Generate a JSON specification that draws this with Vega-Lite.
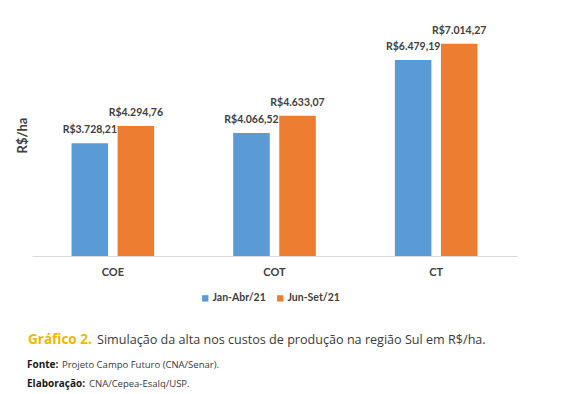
{
  "$schema": "https://vega.github.io/schema/vega-lite/v6.json",
  "background": "white",
  "padding": {"left": 16, "top": 14, "right": 5, "bottom": 5},
  "autosize": {"type": "pad"},
  "spacing": 29,
  "resolve": {"scale": {"color": "independent", "size": "independent", "x": "independent", "y": "independent"}, "legend": {"color": "independent", "size": "independent"}},
  "config": {
    "view": {"stroke": null},
    "locale": {"number": {"decimal": ",", "thousands": ".", "grouping": [3], "currency": ["R$", ""]}},
    "font": "Lato"
  },
  "vconcat": [
    {
      "width": 485,
      "height": 242,
      "data": {"values": [
        {"custo": "COE", "periodo": "Jan-Abr/21", "valor": 3728.21},
        {"custo": "COE", "periodo": "Jun-Set/21", "valor": 4294.76},
        {"custo": "COT", "periodo": "Jan-Abr/21", "valor": 4066.52},
        {"custo": "COT", "periodo": "Jun-Set/21", "valor": 4633.07},
        {"custo": "CT", "periodo": "Jan-Abr/21", "valor": 6479.19},
        {"custo": "CT", "periodo": "Jun-Set/21", "valor": 7014.27}
      ]},
      "encoding": {
        "x": {"field": "custo", "type": "nominal", "sort": ["COE", "COT", "CT"],
          "scale": {"paddingInner": 0, "paddingOuter": 0},
          "axis": {"title": null, "labelAngle": 0, "ticks": false, "domainColor": "#D9D9D9", "domainWidth": 1,
            "labelFont": "Lato", "labelFontWeight": "bold", "labelFontSize": 11, "labelColor": "#404040", "labelPadding": 10}},
        "xOffset": {"field": "periodo", "type": "nominal", "scale": {"paddingInner": 0.2065, "paddingOuter": 0.859}},
        "y": {"field": "valor", "type": "quantitative", "scale": {"domain": [0, 8000]},
          "axis": {"title": "R$/ha", "labels": false, "ticks": false, "domain": false, "grid": false,
            "titleFont": "Lato", "titleFontWeight": "bold", "titleFontSize": 13, "titleColor": "#404040", "titlePadding": 3}}
      },
      "layer": [
        {
          "mark": {"type": "bar"},
          "encoding": {
            "color": {"field": "periodo", "type": "nominal",
              "scale": {"domain": ["Jan-Abr/21", "Jun-Set/21"], "range": ["#5B9BD5", "#ED7D31"]},
              "legend": {"title": null, "orient": "none", "direction": "horizontal", "legendX": 168, "legendY": 279,
                "symbolType": "square", "symbolSize": 40, "symbolStrokeWidth": 0, "columnPadding": 9, "labelOffset": 2,
                "labelFont": "Lato", "labelFontWeight": "bold", "labelFontSize": 10.5, "labelColor": "#404040"}}
          }
        },
        {
          "mark": {"type": "text", "baseline": "bottom", "dy": -8, "font": "Lato", "fontWeight": "bold", "fontSize": 10.5, "color": "#404040"},
          "encoding": {
            "text": {"field": "valor", "type": "quantitative", "format": "$,.2f"}
          }
        }
      ]
    },
    {
      "width": 485,
      "height": 38,
      "data": {"values": [
        {"linha": "1", "destaque": "Gráfico 2.", "texto": "Simulação da alta nos custos de produção na região Sul em R$/ha."},
        {"linha": "2", "destaque": "Fonte:", "texto": "Projeto Campo Futuro (CNA/Senar)."},
        {"linha": "3", "destaque": "Elaboração:", "texto": "CNA/Cepea-Esalq/USP."}
      ]},
      "encoding": {
        "y": {"field": "linha", "type": "ordinal", "scale": {"type": "point", "range": [0, 38], "padding": 0}, "axis": null}
      },
      "layer": [
        {
          "transform": [{"filter": "datum.linha == '1'"}],
          "mark": {"type": "text", "align": "left", "baseline": "middle", "font": "Open Sans", "fontWeight": "bold", "fontSize": 13.5, "color": "#F2B600", "dy": -6},
          "encoding": {"x": {"value": -4}, "text": {"field": "destaque"}}
        },
        {
          "transform": [{"filter": "datum.linha == '1'"}],
          "mark": {"type": "text", "align": "left", "baseline": "middle", "font": "Open Sans", "fontSize": 12.6, "color": "#3A3A3A", "dy": -6},
          "encoding": {"x": {"value": 65}, "text": {"field": "texto"}}
        },
        {
          "transform": [{"filter": "datum.linha != '1'"}],
          "mark": {"type": "text", "align": "left", "baseline": "middle", "font": "Open Sans", "fontWeight": "bold", "fontSize": 10, "color": "#1A1A1A"},
          "encoding": {"x": {"value": -5}, "text": {"field": "destaque"}}
        },
        {
          "transform": [{"filter": "datum.linha == '2'"}],
          "mark": {"type": "text", "align": "left", "baseline": "middle", "font": "Open Sans", "fontSize": 9.5, "color": "#3A3A3A"},
          "encoding": {"x": {"value": 30}, "text": {"field": "texto"}}
        },
        {
          "transform": [{"filter": "datum.linha == '3'"}],
          "mark": {"type": "text", "align": "left", "baseline": "middle", "font": "Open Sans", "fontSize": 9.5, "color": "#3A3A3A"},
          "encoding": {"x": {"value": 57}, "text": {"field": "texto"}}
        }
      ]
    }
  ]
}
